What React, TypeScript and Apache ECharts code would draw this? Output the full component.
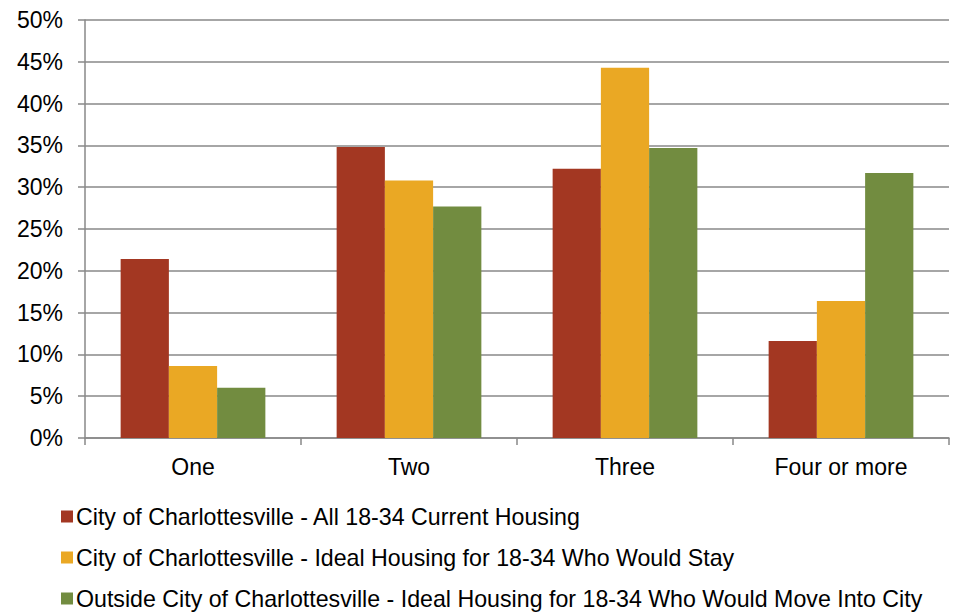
import React, { useEffect, useRef } from "react";
import * as echarts from "echarts";

const categories = ["One", "Two", "Three", "Four or more"];
const seriesNames = [
  "City of Charlottesville - All 18-34 Current Housing",
  "City of Charlottesville - Ideal Housing for 18-34 Who Would Stay",
  "Outside City of Charlottesville - Ideal Housing for 18-34 Who Would Move Into City",
];
const currentHousing = [21.4, 34.8, 32.2, 11.6];
const idealStay = [8.6, 30.8, 44.3, 16.4];
const idealMoveIn = [6.0, 27.7, 34.7, 31.7];
const colors = ["#A33722", "#EAA824", "#728C40"];

export default function App() {
  const ref = useRef<HTMLDivElement>(null);
  useEffect(() => {
    if (!ref.current) return;
    const chart = echarts.init(ref.current, undefined, { renderer: "svg" });
    const font = "Liberation Sans, Arial, sans-serif";
    const data = [currentHousing, idealStay, idealMoveIn];
    chart.setOption({
      animation: false,
      color: colors,
      textStyle: { fontFamily: font },
      grid: { left: 85, right: 4, top: 20, bottom: 174, containLabel: false },
      legend: {
        orient: "vertical",
        left: 61,
        top: 505,
        height: 110,
        padding: 0,
        itemWidth: 12,
        itemHeight: 12,
        itemGap: 18,
        icon: "rect",
        textStyle: { fontSize: 23.2, color: "#000", fontFamily: font, padding: [0, 0, 0, -2] },
        data: seriesNames,
      },
      xAxis: {
        type: "category",
        data: categories,
        axisLine: { lineStyle: { color: "#888", width: 1.5 } },
        axisTick: { show: true, length: 7, lineStyle: { color: "#888", width: 1.5 } },
        axisLabel: { fontSize: 23, color: "#000", margin: 17, fontFamily: font },
      },
      yAxis: {
        type: "value",
        min: 0,
        max: 50,
        interval: 5,
        axisLine: { show: true, lineStyle: { color: "#888", width: 1.5 } },
        axisTick: { show: true, length: 7, lineStyle: { color: "#888", width: 1.5 } },
        splitLine: { lineStyle: { color: "#888", width: 1.5 } },
        axisLabel: {
          fontSize: 23,
          color: "#000",
          margin: 22,
          fontFamily: font,
          formatter: (v: number) => v + "%",
        },
      },
      series: seriesNames.map((name, i) => ({
        name,
        type: "bar",
        data: data[i],
        barGap: "0%",
        barCategoryGap: "33%",
        itemStyle: { color: colors[i] },
      })),
    });
    return () => chart.dispose();
  }, []);
  return <div ref={ref} style={{ width: 953, height: 612, position: "absolute", left: 0, top: 0 }} />;
}
